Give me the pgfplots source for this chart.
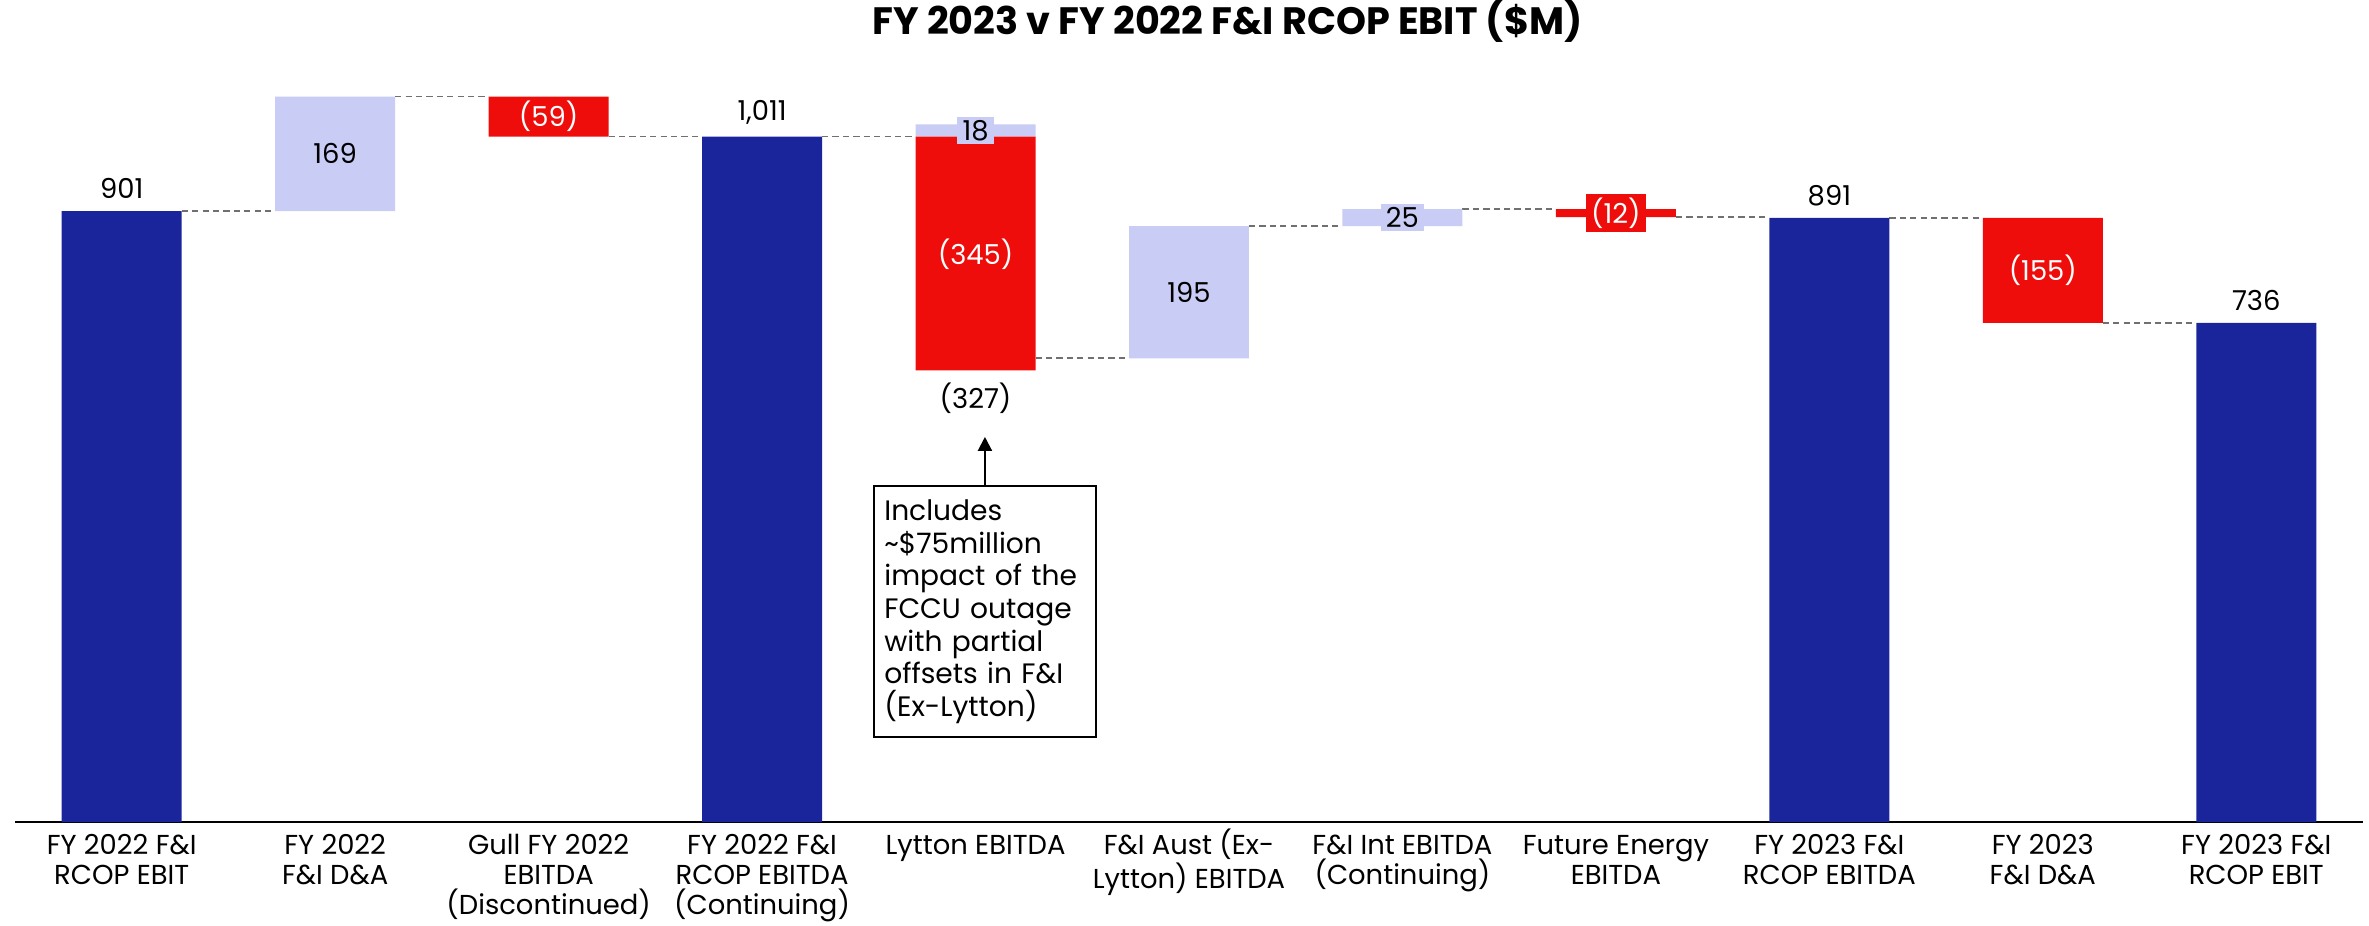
\documentclass[border=0pt]{standalone}
\usepackage{fontspec}
\setmainfont{Poppins}
\usepackage{pgfplots}
\pgfplotsset{compat=1.18}
\usetikzlibrary{arrows.meta}
\definecolor{navy}{HTML}{1A259B}
\definecolor{lav}{HTML}{C9CCF5}
\definecolor{bred}{HTML}{EE0D0A}
\definecolor{dash}{HTML}{707070}
\newcommand{\lbl}{\fontsize{7.9}{8.6}\selectfont}
\newcommand{\fl}{\rule{0pt}{7.5pt}}

\begin{document}
\begin{tikzpicture}
\begin{axis}[
  scale only axis, width=23.788cm, height=8.243cm,
  xmin=-0.5, xmax=10.5, ymin=0, ymax=1200,
  ybar stacked, bar width=0.562,
  axis x line=bottom, axis y line=none,
  axis line style={-, line width=0.6pt},
  xtick={0,...,10}, xtick style={draw=none}, ytick=\empty,
  xticklabels={
    {\fl FY 2022 F\&I\\RCOP EBIT},
    {\fl FY 2022\\F\&I D\&A},
    {\fl Gull FY 2022\\EBITDA\\(Discontinued)},
    {\fl FY 2022 F\&I\\RCOP EBITDA\\(Continuing)},
    {\fl Lytton EBITDA},
    {\fl F\&I Aust (Ex-\\Lytton) EBITDA},
    {\fl F\&I Int EBITDA\\(Continuing)},
    {\fl Future Energy\\EBITDA},
    {\fl FY 2023 F\&I\\RCOP EBITDA},
    {\fl FY 2023\\F\&I D\&A},
    {\fl FY 2023 F\&I\\RCOP EBIT}},
  xticklabel style={align=center, font=\lbl, anchor=north, yshift=3.8pt},
  clip=false,
]
% invisible base of the floating bars
\addplot[draw=none, fill=none] coordinates {(0,0)(1,901)(2,1011)(3,0)(4,666)(5,684)(6,879)(7,892)(8,0)(9,736)(10,0)};
% totals
\addplot[draw=none, fill=navy] coordinates {(0,901)(1,0)(2,0)(3,1011)(4,0)(5,0)(6,0)(7,0)(8,891)(9,0)(10,736)};
% decreases
\addplot[draw=none, fill=bred] coordinates {(0,0)(1,0)(2,59)(3,0)(4,345)(5,0)(6,0)(7,12)(8,0)(9,155)(10,0)};
% increases
\addplot[draw=none, fill=lav] coordinates {(0,0)(1,169)(2,0)(3,0)(4,18)(5,195)(6,25)(7,0)(8,0)(9,0)(10,0)};

% connectors
\tikzset{conn/.style={draw=dash, line width=0.45pt, dash pattern=on 1.8pt off 1.2pt}}
\draw[conn] (axis cs:0.281,901) -- (axis cs:0.719,901);
\draw[conn] (axis cs:1.281,1070) -- (axis cs:1.719,1070);
\draw[conn] (axis cs:2.281,1011) -- (axis cs:2.719,1011);
\draw[conn] (axis cs:3.281,1011) -- (axis cs:3.719,1011);
\draw[conn] (axis cs:4.281,684) -- (axis cs:4.719,684);
\draw[conn] (axis cs:5.281,879) -- (axis cs:5.719,879);
\draw[conn] (axis cs:6.281,904) -- (axis cs:6.719,904);
\draw[conn] (axis cs:7.281,892) -- (axis cs:7.719,892);
\draw[conn] (axis cs:8.281,891) -- (axis cs:8.719,891);
\draw[conn] (axis cs:9.281,736) -- (axis cs:9.719,736);

% label anchors
\coordinate (t0) at (axis cs:0,901);
\coordinate (m1) at (axis cs:1,985.5);
\coordinate (m2) at (axis cs:2,1040.5);
\coordinate (t3) at (axis cs:3,1011);
\coordinate (m4a) at (axis cs:4,1020);
\coordinate (m4b) at (axis cs:4,838);
\coordinate (b4) at (axis cs:4,666);
\coordinate (m5) at (axis cs:5,781.5);
\coordinate (m6) at (axis cs:6,891.5);
\coordinate (m7) at (axis cs:7,898);
\coordinate (t8) at (axis cs:8,891);
\coordinate (m9) at (axis cs:9,813.5);
\coordinate (t10) at (axis cs:10,736);
\coordinate (ann) at (axis cs:4.044,497);
\coordinate (arr) at (axis cs:4.044,568);
\coordinate (ttl) at (axis cs:5.18,1161);
\end{axis}

% value labels
\node[font=\lbl, above] at (t0) {901};
\node[font=\lbl] at (m1) {169};
\node[font=\lbl, text=white] at (m2) {(59)};
\node[font=\lbl, above] at (t3) {1,011};
\node[font=\lbl, fill=lav, inner xsep=1.5pt, inner ysep=1pt] at (m4a) {18};
\node[font=\lbl, text=white] at (m4b) {(345)};
\node[font=\lbl, below] at (b4) {(327)};
\node[font=\lbl] at (m5) {195};
\node[font=\lbl, fill=lav, inner xsep=1.5pt, inner ysep=1pt] at (m6) {25};
\node[font=\lbl, fill=bred, text=white, inner xsep=1.5pt, inner ysep=1pt] at (m7) {(12)};
\node[font=\lbl, above] at (t8) {891};
\node[font=\lbl, text=white] at (m9) {(155)};
\node[font=\lbl, above] at (t10) {736};

% annotation
\draw[-{Triangle[length=4pt,width=4pt]}, line width=0.6pt] (ann) -- (arr);
\node[draw, line width=0.5pt, anchor=north, text width=58pt, align=left,
      inner xsep=3pt, inner ysep=4pt, font=\fontsize{8.1}{9.4}\selectfont] at (ann)
  {Includes\\\textasciitilde\$75million\\impact of the\\FCCU outage\\with partial\\offsets in F\&I\\(Ex-Lytton)};

% title
\node[font=\bfseries\fontsize{11}{12}\selectfont, anchor=base] at (ttl)
  {FY 2023 v FY 2022 F\&I RCOP EBIT (\$M)};

\pgfresetboundingbox
\path (current axis.south west) ++(-0.152cm,-1.0435cm) rectangle ([xshift=0.061cm,yshift=0.085cm]current axis.north east);
\end{tikzpicture}
\end{document}
